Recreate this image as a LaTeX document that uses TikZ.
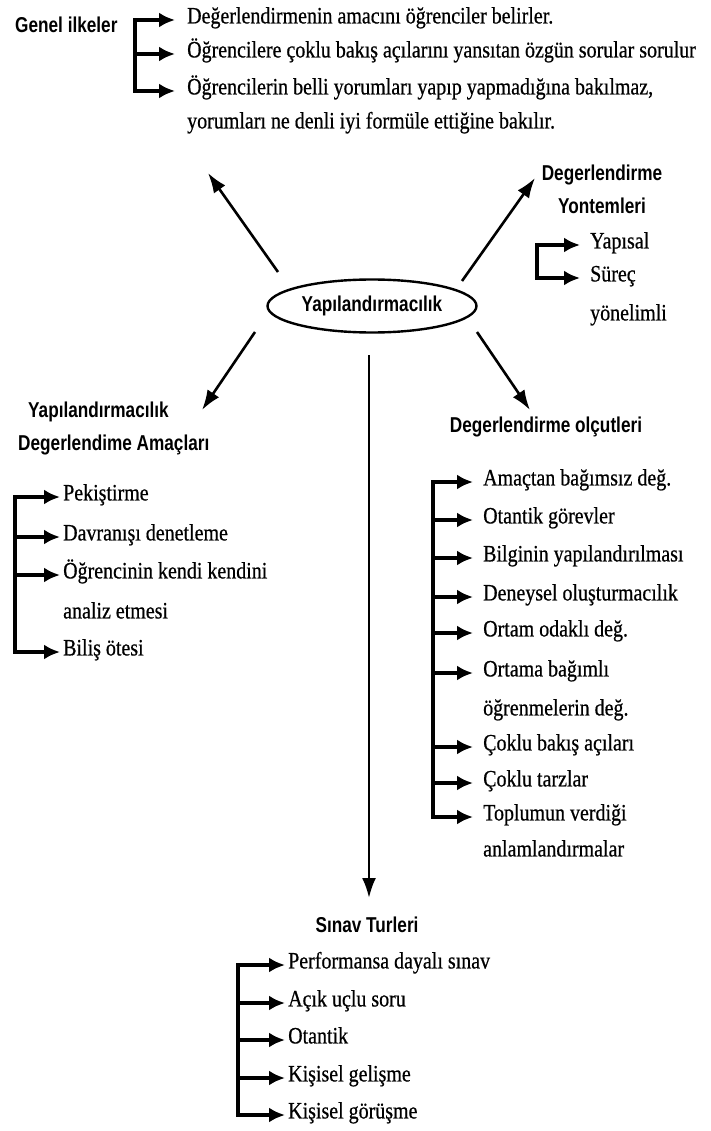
\documentclass[tikz,border=0pt]{standalone}
\usepackage{fontspec}
\setmainfont{Liberation Serif}[FakeStretch=0.85,FakeBold=0.6]
\setsansfont{Liberation Sans}[FakeStretch=0.8]
\usetikzlibrary{shapes.geometric,arrows.meta}

\tikzset{
  headtxt/.style={font=\sffamily\bfseries\fontsize{21.5}{33}\selectfont,inner sep=0pt},
  itemtxt/.style={anchor=west,font=\fontsize{23.5}{28}\selectfont,inner sep=0pt,text height=1.5ex,text depth=0pt},
  brace/.style={line width=3.4pt,line cap=rect},
  pointer/.style={line width=3.4pt,-{Latex[length=16pt,width=15pt]}},
  spoke/.style={line width=2.6pt,-{Latex[length=20pt,width=14pt]}}
}

\begin{document}
\begin{tikzpicture}[x=1pt,y=-1pt]
        \useasboundingbox (0,0) rectangle (710,1131);
        \node[headtxt,draw,ellipse,line width=2.4pt,minimum width=209pt,minimum height=53pt] (core) at (372,306) {Yapılandırmacılık};

        \node[headtxt,anchor=west] (genel) at (15,25) {Genel ilkeler};
        \node[itemtxt] (g1) at (187,20) {Değerlendirmenin amacını öğrenciler belirler.};
        \node[itemtxt] (g2) at (187,54) {Öğrencilere çoklu bakış açılarını yansıtan özgün sorular sorulur};
        \node[itemtxt] (g3) at (187,91) {Öğrencilerin belli yorumları yapıp yapmadığına bakılmaz,};
        \node[itemtxt] (g4) at (187,125) {yorumları ne denli iyi formüle ettiğine bakılır.};
        \coordinate (gtop) at (135,20);
        \coordinate (gmid) at (135,54);
        \coordinate (gbot) at (135,91);
        \draw[brace] (gtop) -- (gbot);
        \draw[pointer,shorten >=12pt] (gtop) -- (g1.west);
        \draw[pointer,shorten >=12pt] (gmid) -- (g2.west);
        \draw[pointer,shorten >=12pt] (gbot) -- (g3.west);

        \node[headtxt,align=center] (yontem) at (602,189) {Degerlendirme\\Yontemleri};
        \node[itemtxt] (y1) at (590,245) {Yapısal};
        \node[itemtxt] (y2) at (590,278) {Süreç};
        \node[itemtxt] (y3) at (590,317) {yönelimli};
        \coordinate (ytop) at (537,245);
        \coordinate (ybot) at (537,278);
        \draw[brace] (ytop) -- (ybot);
        \draw[pointer,shorten >=10pt] (ytop) -- (y1.west);
        \draw[pointer,shorten >=10pt] (ybot) -- (y2.west);

        \node[headtxt,align=left,anchor=west] (amac) at (18,428) {\hspace*{10pt}Yapılandırmacılık\\Degerlendime Amaçları};
        \node[itemtxt] (a1) at (63,497) {Pekiştirme};
        \node[itemtxt] (a2) at (63,537) {Davranışı denetleme};
        \node[itemtxt] (a3) at (63,575) {Öğrencinin kendi kendini};
        \node[itemtxt] (a4) at (63,615) {analiz etmesi};
        \node[itemtxt] (a5) at (63,652) {Biliş ötesi};
        \coordinate (atop) at (15,497);
        \coordinate (am1) at (15,537);
        \coordinate (am2) at (15,575);
        \coordinate (abot) at (15,652);
        \draw[brace] (atop) -- (abot);
        \draw[pointer,shorten >=3pt] (atop) -- (a1.west);
        \draw[pointer,shorten >=3pt] (am1) -- (a2.west);
        \draw[pointer,shorten >=3pt] (am2) -- (a3.west);
        \draw[pointer,shorten >=3pt] (abot) -- (a5.west);

        \node[headtxt] (olcut) at (546,427) {Degerlendirme olçutleri};
        \node[itemtxt] (o1) at (483,482) {Amaçtan bağımsız değ.};
        \node[itemtxt] (o2) at (483,520) {Otantik görevler};
        \node[itemtxt] (o3) at (483,558) {Bilginin yapılandırılması};
        \node[itemtxt] (o4) at (483,597) {Deneysel oluşturmacılık};
        \node[itemtxt] (o5) at (483,633) {Ortam odaklı değ.};
        \node[itemtxt] (o6) at (483,673) {Ortama bağımlı};
        \node[itemtxt] (o7) at (483,712) {öğrenmelerin değ.};
        \node[itemtxt] (o8) at (483,747) {Çoklu bakış açıları};
        \node[itemtxt] (o9) at (483,783) {Çoklu tarzlar};
        \node[itemtxt] (o10) at (483,817) {Toplumun verdiği};
        \node[itemtxt] (o11) at (483,853) {anlamlandırmalar};
        \coordinate (otop) at (433,482);
        \coordinate (om2) at (433,520);
        \coordinate (om3) at (433,558);
        \coordinate (om4) at (433,597);
        \coordinate (om5) at (433,633);
        \coordinate (om6) at (433,673);
        \coordinate (om8) at (433,747);
        \coordinate (om9) at (433,783);
        \coordinate (obot) at (433,817);
        \draw[brace] (otop) -- (obot);
        \draw[pointer,shorten >=10pt] (otop) -- (o1.west);
        \draw[pointer,shorten >=10pt] (om2) -- (o2.west);
        \draw[pointer,shorten >=10pt] (om3) -- (o3.west);
        \draw[pointer,shorten >=10pt] (om4) -- (o4.west);
        \draw[pointer,shorten >=10pt] (om5) -- (o5.west);
        \draw[pointer,shorten >=10pt] (om6) -- (o6.west);
        \draw[pointer,shorten >=10pt] (om8) -- (o8.west);
        \draw[pointer,shorten >=10pt] (om9) -- (o9.west);
        \draw[pointer,shorten >=10pt] (obot) -- (o10.west);

        \node[headtxt] (sinav) at (367,925) {Sınav Turleri};
        \node[itemtxt] (s1) at (288,965) {Performansa dayalı sınav};
        \node[itemtxt] (s2) at (288,1003) {Açık uçlu soru};
        \node[itemtxt] (s3) at (288,1040) {Otantik};
        \node[itemtxt] (s4) at (288,1078) {Kişisel gelişme};
        \node[itemtxt] (s5) at (288,1115) {Kişisel görüşme};
        \coordinate (stop) at (238,965);
        \coordinate (sm2) at (238,1003);
        \coordinate (sm3) at (238,1040);
        \coordinate (sm4) at (238,1078);
        \coordinate (sbot) at (238,1115);
        \draw[brace] (stop) -- (sbot);
        \draw[pointer,shorten >=3pt] (stop) -- (s1.west);
        \draw[pointer,shorten >=3pt] (sm2) -- (s2.west);
        \draw[pointer,shorten >=3pt] (sm3) -- (s3.west);
        \draw[pointer,shorten >=3pt] (sm4) -- (s4.west);
        \draw[pointer,shorten >=3pt] (sbot) -- (s5.west);

        \coordinate (nwS) at (278,272);
        \coordinate (nwE) at (208,173);
        \coordinate (neS) at (462,281);
        \coordinate (neE) at (535,178);
        \coordinate (swS) at (255,332);
        \coordinate (swE) at (202,410);
        \coordinate (seS) at (477,332);
        \coordinate (seE) at (530,410);
        \coordinate (dnS) at (369,355);
        \coordinate (dnE) at (369,898);
        \draw[spoke] (nwS) -- (nwE);
        \draw[spoke] (neS) -- (neE);
        \draw[spoke] (swS) -- (swE);
        \draw[spoke] (seS) -- (seE);
        \draw[spoke] (dnS) -- (dnE);
      \end{tikzpicture}
\end{document}
